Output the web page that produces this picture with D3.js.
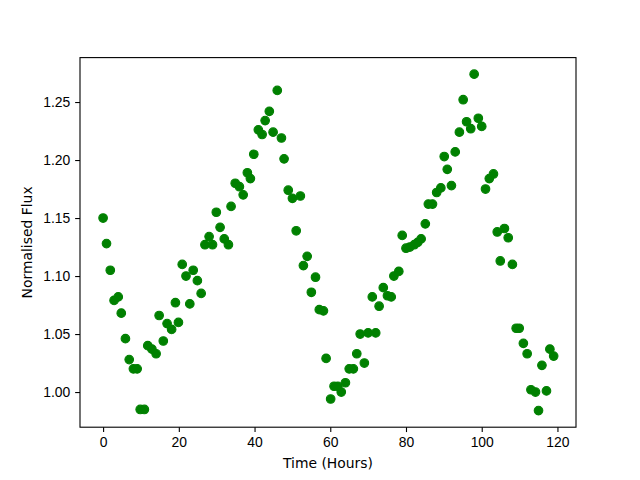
<!DOCTYPE html>
<html>
<head>
<meta charset="utf-8">
<script src="https://cdn.jsdelivr.net/npm/d3@7"></script>
<style>
    body { margin: 0; background: #fff; }
    svg { display: block; font-family: "DejaVu Sans", sans-serif; }
    .axis text { font-size: 13.9px; fill: #000; }
    .axis path, .axis line { stroke: #000; stroke-width: 1.1px; }
    .label { font-size: 13.9px; fill: #000; }
</style>
</head>
<body>
<svg id="chart" width="640" height="480"></svg>
<script>
// time of each sample, hours
const times = [
    0.0, 0.9, 1.9, 2.9, 4.0, 4.8, 5.9, 6.9, 8.0, 9.0,
    9.8, 10.9, 11.8, 12.9, 14.0, 14.8, 15.9, 16.9, 18.1, 19.1,
    19.9, 20.9, 21.9, 22.9, 23.8, 24.9, 25.9, 26.9, 28.0, 28.9,
    29.9, 30.9, 32.0, 33.1, 33.8, 34.9, 36.0, 37.0, 38.1, 38.9,
    39.8, 41.0, 42.0, 42.8, 43.9, 44.9, 46.0, 47.1, 47.8, 48.9,
    50.0, 51.0, 52.1, 52.9, 53.9, 55.0, 56.1, 57.1, 58.2, 58.9,
    60.1, 61.0, 62.0, 62.9, 64.0, 65.0, 66.1, 67.0, 67.9, 69.0,
    70.0, 71.1, 72.0, 72.9, 74.0, 75.1, 76.1, 76.8, 78.1, 79.0,
    80.0, 81.0, 82.2, 83.1, 84.0, 85.1, 85.9, 87.0, 88.1, 89.2,
    90.1, 90.9, 92.0, 93.0, 94.1, 95.1, 96.0, 97.1, 98.0, 99.1,
    100.0, 101.0, 102.0, 103.1, 104.1, 104.9, 106.0, 107.0, 108.1, 109.1,
    109.9, 111.0, 112.0, 113.0, 114.2, 115.0, 115.9, 117.1, 118.0, 119.0
];

// normalised flux, same order as times
const flux = [
    1.150, 1.128, 1.105, 1.079, 1.082, 1.068, 1.046, 1.028, 1.020, 1.020,
    0.985, 0.985, 1.040, 1.037, 1.033, 1.066, 1.044, 1.059, 1.054, 1.077,
    1.060, 1.110, 1.100, 1.076, 1.105, 1.096, 1.085, 1.127, 1.134, 1.127,
    1.155, 1.142, 1.132, 1.127, 1.160, 1.180, 1.177, 1.170, 1.189, 1.184,
    1.205, 1.226, 1.222, 1.234, 1.242, 1.224, 1.260, 1.219, 1.201, 1.174,
    1.167, 1.139, 1.169, 1.109, 1.117, 1.086, 1.099, 1.071, 1.070, 1.029,
    0.994, 1.005, 1.005, 1.000, 1.008, 1.020, 1.020, 1.033, 1.050, 1.025,
    1.051, 1.082, 1.051, 1.074, 1.090, 1.083, 1.082, 1.100, 1.104, 1.135,
    1.124, 1.125, 1.127, 1.129, 1.132, 1.145, 1.162, 1.162, 1.172, 1.176,
    1.203, 1.192, 1.178, 1.207, 1.224, 1.252, 1.233, 1.227, 1.274, 1.236,
    1.229, 1.175, 1.184, 1.188, 1.138, 1.113, 1.141, 1.133, 1.110, 1.055,
    1.055, 1.042, 1.033, 1.002, 1.000, 0.984, 1.023, 1.001, 1.037, 1.031
];

const xTicks = [0, 20, 40, 60, 80, 100, 120];
const yTicks = [1.00, 1.05, 1.10, 1.15, 1.20, 1.25];

const W = 640, H = 480;
const margin = { left: 80, right: 64, top: 57.6, bottom: 52.8 };
const plotW = W - margin.left - margin.right;
const plotH = H - margin.top - margin.bottom;

const svg = d3.select('#chart');
const g = svg.append('g').attr('transform', `translate(${margin.left},${margin.top})`);

const x = d3.scaleLinear().domain([-6.1, 124.9]).range([0, plotW]);
const y = d3.scaleLinear().domain([0.9697, 1.2883]).range([plotH, 0]);

const TICK = 4.86;

g.append('g')
    .attr('class', 'axis')
    .attr('transform', `translate(0,${plotH})`)
    .call(d3.axisBottom(x).tickValues(xTicks).tickFormat(d3.format('d'))
        .tickSize(TICK).tickPadding(TICK).tickSizeOuter(0))
    .call(a => a.select('.domain').remove());

g.append('g')
    .attr('class', 'axis')
    .call(d3.axisLeft(y).tickValues(yTicks).tickFormat(d3.format('.2f'))
        .tickSize(TICK).tickPadding(TICK).tickSizeOuter(0))
    .call(a => a.select('.domain').remove());

// points
g.append('g')
    .selectAll('circle')
    .data(times.map((t, i) => ({ t, f: flux[i] })))
    .join('circle')
    .attr('cx', d => x(d.t))
    .attr('cy', d => y(d.f))
    .attr('r', 4.3)
    .attr('fill', '#008000')
    .attr('stroke', '#008000')
    .attr('stroke-width', 1.1);

// frame
g.append('rect')
    .attr('width', plotW)
    .attr('height', plotH)
    .attr('fill', 'none')
    .attr('stroke', '#000')
    .attr('stroke-width', 1.1);

svg.append('text')
    .attr('class', 'label')
    .attr('x', margin.left + plotW / 2)
    .attr('y', 468)
    .attr('text-anchor', 'middle')
    .text('Time (Hours)');

svg.append('text')
    .attr('class', 'label')
    .attr('transform', `translate(32,${margin.top + plotH / 2}) rotate(-90)`)
    .attr('text-anchor', 'middle')
    .text('Normalised Flux');
</script>
</body>
</html>
